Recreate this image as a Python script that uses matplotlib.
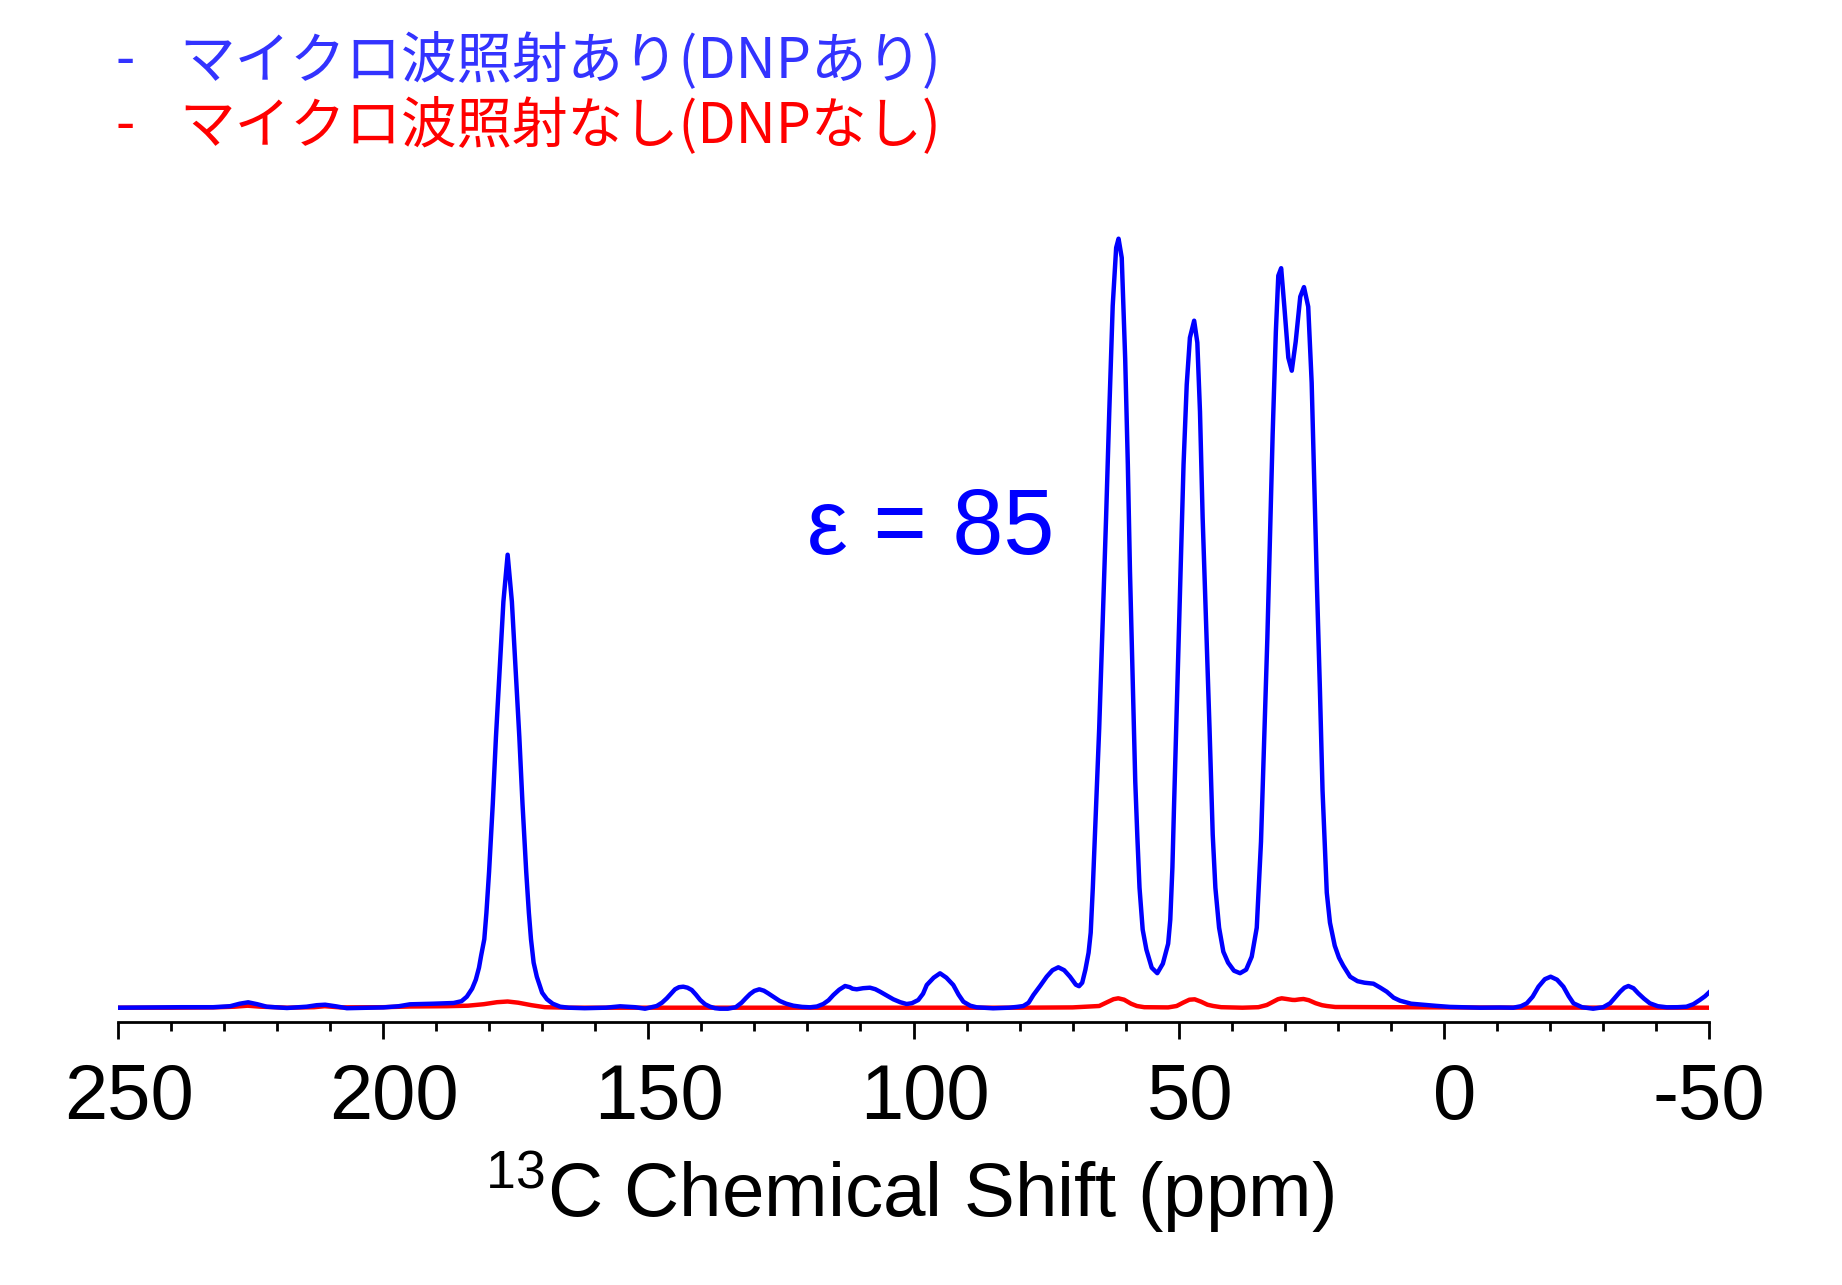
import matplotlib
matplotlib.use("Agg")
import matplotlib.pyplot as plt
import matplotlib.transforms as mtransforms
from matplotlib.ticker import MultipleLocator

plt.rcParams['font.family'] = ['Liberation Sans', 'DejaVu Sans']
plt.rcParams['mathtext.fontset'] = 'custom'
plt.rcParams['mathtext.rm'] = 'Liberation Sans'
plt.rcParams['axes.unicode_minus'] = False

# 13C spectrum, DNP on (microwave on) -- chemical shift (ppm), intensity (a.u.)
blue_ppm = [250, 244, 238, 232, 228.8, 227, 225.4, 223.7, 221.9, 218.1, 214.4, 212.5, 210.9, 209, 206.8,
            203, 199.9, 197, 194.9, 190.5, 186.7, 185.2, 184.2, 183.2, 182.5, 181.9, 181.5, 180.9, 180.5,
            180.0, 179.3, 178.7, 178.0, 177.3, 176.5, 175.7, 175.0, 174.3, 173.7, 173.0, 172.5, 172.1,
            171.6, 171.0, 170.0, 169.1, 168.0, 166.6, 165.0, 162, 158, 155.3, 152.5, 150.6, 148.4, 147.4,
            146.5, 145.7, 144.95, 144.2, 143.4, 142.6, 141.8, 141.0, 140.2, 139.3, 138.35, 137.4, 136.5,
            135, 133.5, 132.4, 131.6, 130.8, 130, 129.06, 128.2, 127.4, 126.3, 125.2, 124, 122.65, 121,
            119.5, 118.2, 117, 116, 115.1, 114, 112.9, 112, 111.5, 110.7, 109.5, 108.2, 107.2, 106.3, 105,
            103.8, 102.5, 101.3, 100.3, 99.1, 98.2, 97.5, 96.2, 95, 93.8, 92.5, 91.5, 90.6, 89.3, 88.1, 85,
            82, 80.5, 79.3, 78.3, 77.4, 76.1, 74.9, 73.8, 72.7, 71.6, 70.5, 69.4, 68.8, 68.2, 67.6, 67.0,
            66.6, 66.2, 65.8, 65.0, 64.34, 63.7, 63.1, 62.45, 61.8, 61.35, 60.75, 60.1, 59.6, 59.2, 58.7,
            58.2, 57.8, 57.4, 56.8, 56.1, 55.1, 54.05, 53.0, 52.0, 51.6, 51.2, 50.9, 50.2, 49.65, 49.1,
            48.5, 47.9, 47.1, 46.5, 46.0, 45.5, 44.85, 44.2, 43.6, 43.1, 42.4, 41.6, 40.7, 39.6, 38.45,
            37.3, 36.25, 35.3, 34.5, 33.9, 33.3, 32.8, 32.3, 31.7, 31.24, 30.7, 30.1, 29.35, 28.7, 27.96,
            27.1, 26.4, 25.6, 24.95, 24.45, 23.95, 23.4, 22.9, 22.5, 22.1, 21.5, 20.6, 19.8, 19.0, 17.7,
            16.3, 15.0, 13.3, 12.0, 10.8, 9.5, 8.3, 6.2, 4.0, 1.4, -1.1, -4, -6.8, -10.5, -13.05, -14.5,
            -15.6, -16.7, -17.8, -19.0, -20.1, -21.3, -22.5, -23.5, -24.4, -26, -28.1, -30, -31.3, -32.3,
            -33.2, -34.0, -34.75, -35.7, -36.6, -37.7, -38.8, -40.3, -42, -44, -45.7, -47, -48.2, -49.2, -50]
blue_int = [0, 0.3, 0.5, 0.5, 1.5, 4, 5.4, 3.5, 1, -0.3, 1, 2.5, 3, 1.5, -0.5,
            0, 0.3, 1.5, 3.4, 4, 4.7, 6.5, 11, 19, 28, 40, 52, 68.5, 95,
            136, 204, 271, 339, 406, 453, 406, 339, 271, 204, 136, 95, 68.5,
            45, 31, 15, 8.5, 4, 1, 0, -0.5, 0, 1.4, 0.5, -1, 1.7, 5,
            9.4, 14, 18.4, 20.5, 21, 20, 17.7, 13, 7.7, 3.5, 1, -0.5, -1,
            -1, 0.5, 5, 9.5, 13.7, 16.8, 18.4, 17, 14.4, 10.5, 6.7, 4, 2, 0.8,
            0.4, 1.2, 3.7, 7.5, 12.7, 18, 21.7, 20.5, 19, 18.4, 19.5, 20, 18.5, 16, 12,
            8.4, 5.5, 3.7, 4.5, 7.7, 14, 22.7, 30, 34.4, 30, 22.7, 13, 6, 2, 0.4, -0.6,
            0, 0.8, 1.7, 5, 12.7, 22, 31, 37.5, 40.4, 37.5, 31, 23, 21.5, 25, 38, 55,
            75, 120, 173, 279, 385, 490, 596, 702, 760, 769, 750, 649, 543, 437, 332,
            226, 170, 120, 78, 58, 40, 34.5, 44, 64, 88, 140, 200, 332, 437, 543,
            623, 670, 687, 665, 596, 490, 385, 279, 173, 120, 80, 56, 45, 37, 34.5,
            38, 51, 80, 166, 268, 370, 472, 574, 676, 732, 739.5, 701, 650, 637, 666,
            711, 720.6, 701, 625, 523, 421, 319, 217, 165, 115, 85, 62, 50, 42, 31,
            26.5, 25, 24, 20, 16, 10, 7, 4, 3, 1.8, 0.8, 0.4, 0, 0.2, 0, 1.5,
            4.4, 11, 21, 28.5, 31, 28, 21, 11.5, 4.4, 0.5, -1, 0.5, 4.4, 10.5,
            16, 20, 21.7, 19.5, 14.4, 9, 4.4, 1.5, 0.4, 0.5, 1, 3.5, 7.7, 11.5, 15.5]

# DNP off (no microwave)
red_ppm = [250, 240, 232, 228, 225.5, 223, 218, 213, 211, 208, 200, 195, 188, 184, 181, 178.5, 176.5,
           174.5, 172, 169.5, 165, 150, 130, 100, 80, 70, 65, 63.5, 62.3, 61.4, 60.3, 59, 57.9, 56.5,
           52, 50.4, 49.2, 48, 47, 45.8, 44.6, 43.5, 42, 38, 35, 33.4, 32.2, 31.3, 30.6, 29.8, 28.6,
           28.1, 27.3, 26.5, 25.5, 24.2, 23, 22.1, 20.5, 10, 0, -10, -50]
red_int = [0, 0, 0.3, 1, 2, 1, 0, 0.5, 1.5, 0.3, 0.5, 1.2, 1.5, 2, 3.5, 5.5, 6.2,
           5, 2.5, 0.5, 0, 0, 0, 0, 0, 0.3, 1.7, 5.5, 8.5, 9.4, 8, 4, 1.7, 0.5,
           0.3, 1.7, 5, 8, 8.4, 6, 3, 1.7, 0.5, 0, 0.5, 2.7, 6, 8.5, 9.4, 8.8, 7.8,
           7.7, 8.3, 8.7, 7.5, 4.5, 2.5, 1.7, 0.7, 0.5, 0.3, 0.1, 0]

major_ticks = [250, 200, 150, 100, 50, 0, -50]
legend_labels = ['マイクロ波照射あり(DNPあり)', 'マイクロ波照射なし(DNPなし)']
enhancement = 'ε = 85'

W, H = 1842, 1285
fig = plt.figure(figsize=(W / 100, H / 100), dpi=100)
# axes placed in pixel units: spine at y=1022 px, 1 intensity unit = 1 px
ax = fig.add_axes([117.7 / W, (H - 1022.3) / H, (1709.3 - 117.7) / W, (1022.3 - 200) / H])
ax.set_ylim(-14.6, 807.7)
ax.set_xlim(250, -50)

ax.plot(red_ppm, red_int, color='#ff0000', lw=3.2, zorder=2, solid_joinstyle='round')
ax.plot(blue_ppm, blue_int, color='#0000ff', lw=3.2, zorder=3, solid_joinstyle='round')

for s in ['top', 'left', 'right']:
    ax.spines[s].set_visible(False)
ax.spines['bottom'].set_linewidth(2.0)
ax.set_yticks([])
ax.set_xticks(major_ticks)
ax.set_xticklabels([str(t) for t in major_ticks])
ax.xaxis.set_minor_locator(MultipleLocator(10))
ax.tick_params(axis='x', which='major', length=12.5, width=2.0, labelsize=56, pad=16, direction='out')
ax.tick_params(axis='x', which='minor', length=6.2, width=2.0, direction='out')
# Origin-style labels sit a little to the right of the ticks
for lab, t in zip(ax.get_xticklabels(), major_ticks):
    dx = 0 if t < 0 else 11 / 100
    lab.set_transform(lab.get_transform() + mtransforms.ScaledTranslation(dx, 0, fig.dpi_scale_trans))

fig.text(909.5 / W, 1 - 1217 / H, r'$\mathregular{^{13}}$C Chemical Shift (ppm)',
         fontsize=55, ha='center', va='baseline')

fig.text(807 / W, 1 - 554.3 / H, enhancement, fontsize=66, color='#0000ff', ha='left', va='baseline')

cjk = ['Noto Sans CJK JP', 'DejaVu Sans']
for i, (txt, col) in enumerate(zip(legend_labels, ['#3333ff', '#ff0000'])):
    yb = 1 - (77 + 65 * i) / H
    fig.text(115 / W, yb, '-', fontsize=40, color=col, family=cjk, ha='left', va='baseline')
    fig.text(179 / W, yb, txt, fontsize=40, color=col, family=cjk, ha='left', va='baseline')

fig.savefig('out.png', dpi=100)
